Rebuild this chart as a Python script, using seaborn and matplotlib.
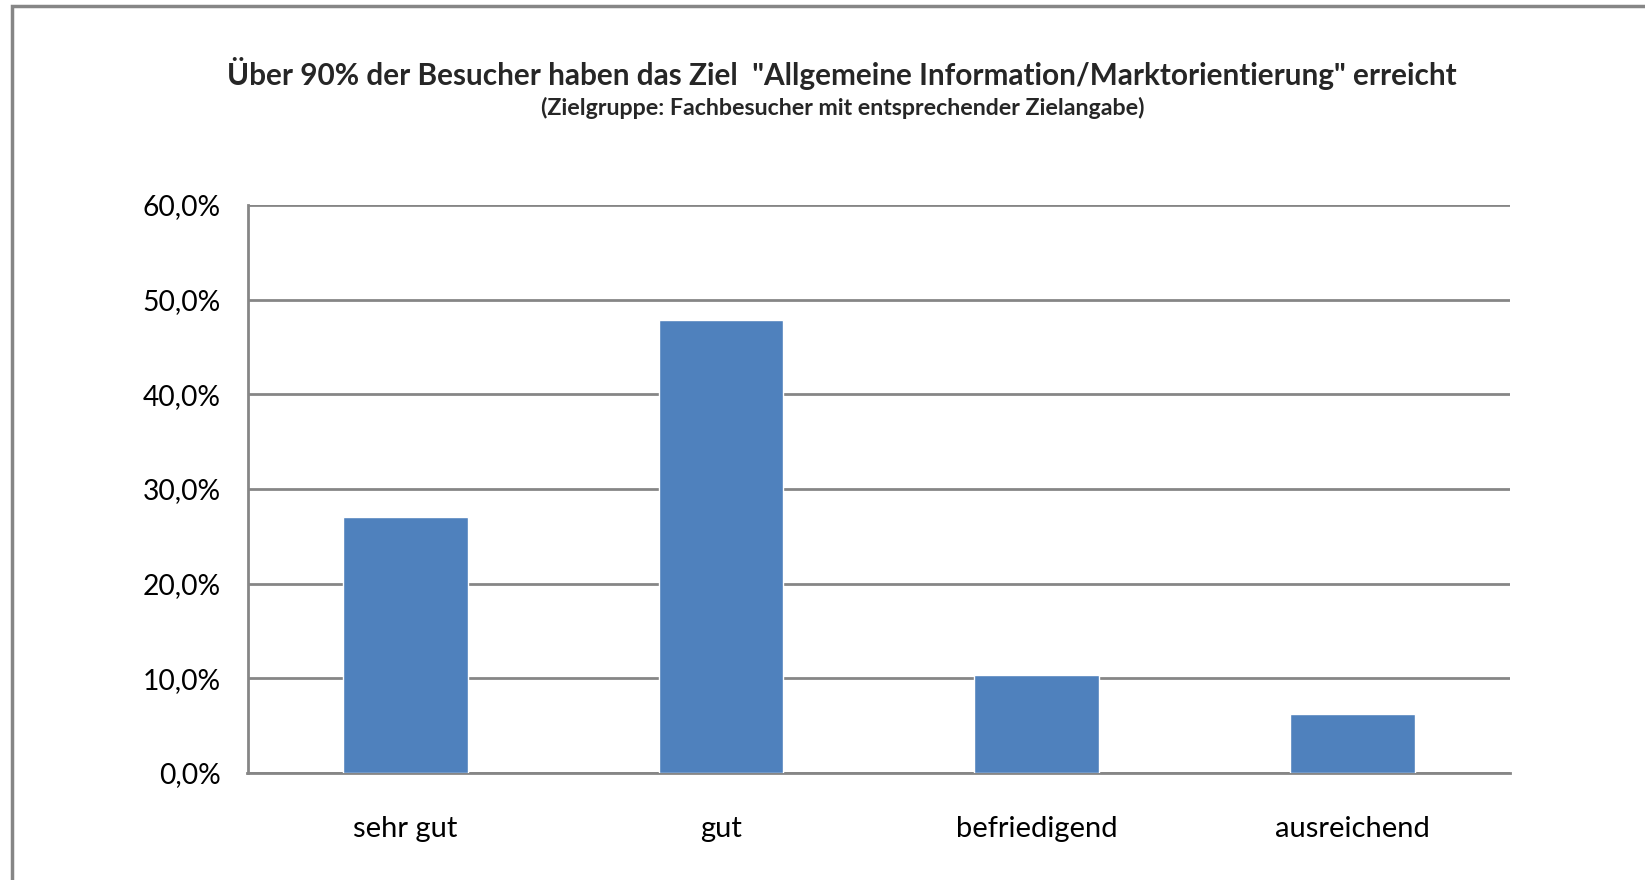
import pandas as pd
import matplotlib.pyplot as plt
import seaborn as sns
from matplotlib.patches import Rectangle
from matplotlib.ticker import FuncFormatter

# Daten
kategorien = ["sehr gut", "gut", "befriedigend", "ausreichend"]
anteile = [27.0, 47.8, 10.3, 6.2]

titel = 'Über 90% der Besucher haben das Ziel  "Allgemeine Information/Marktorientierung" erreicht'
untertitel = "(Zielgruppe: Fachbesucher mit entsprechender Zielangabe)"

df = pd.DataFrame({"Kategorie": kategorien, "Anteil": anteile})

sns.set_theme(style="white")
plt.rcParams["font.family"] = ["Lato", "DejaVu Sans"]

W, H = 1645, 880
fig = plt.figure(figsize=(W / 100, H / 100), dpi=100)
ax = fig.add_axes([247.5 / W, 1 - 773 / H, (1510 - 247.5) / W, (773 - 205) / H])

grau = "#868686"
sns.barplot(data=df, x="Kategorie", y="Anteil", color="#4F81BD", saturation=1,
            width=0.395, ax=ax, zorder=3)

ax.set_ylim(0, 60)
ax.set_xlim(-0.5, 3.5)
ax.set_yticks(range(0, 61, 10))
ax.yaxis.set_major_formatter(FuncFormatter(lambda v, p: f"{v:.1f}%".replace(".", ",")))
ax.yaxis.grid(True, color=grau, linewidth=2)
ax.set_axisbelow(True)
for s in ["top", "right"]:
    ax.spines[s].set_visible(False)
for s in ["left", "bottom"]:
    ax.spines[s].set_color(grau)
    ax.spines[s].set_linewidth(2)
ax.tick_params(axis="both", length=0, colors="black")
ax.tick_params(axis="y", pad=19, labelsize=20.3)
ax.tick_params(axis="x", pad=31, labelsize=21)
ax.set_xlabel("")
ax.set_ylabel("")

fig.text(842 / W, 1 - 73 / H, titel, ha="center", va="center",
         fontsize=21.4, fontweight="bold")
fig.text(843 / W, 1 - 108 / H, untertitel, ha="center", va="center",
         fontsize=16.7, fontweight="bold")

# Rahmen des Diagrammbereichs
fig.patches.append(Rectangle((12 / W, -0.1), 1.2, 1.1 - 6 / H, transform=fig.transFigure,
                             fill=False, edgecolor=grau, linewidth=2.5))

fig.savefig("out.png", dpi=100)
